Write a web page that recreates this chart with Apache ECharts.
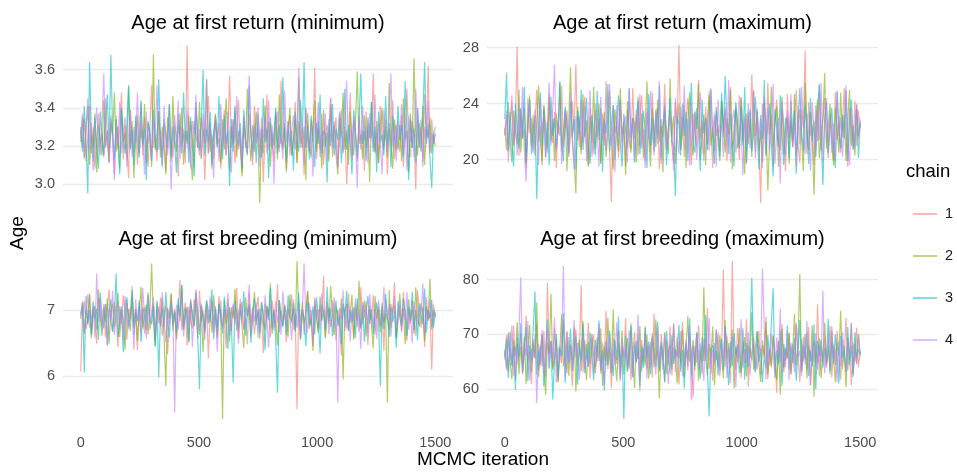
<!DOCTYPE html>
<html><head><meta charset="utf-8">
<script src="https://cdn.jsdelivr.net/npm/echarts@6/dist/echarts.min.js"></script>
<style>html,body{margin:0;padding:0;background:#fff}#c{width:957px;height:472px}</style>
</head><body><div id="c"></div>
<script>
// ---- data (hand-read traces, one value every 7.5 iterations) ----
const chains = ['1', '2', '3', '4'];
const chainColors = ['#F8766D', '#7CAE00', '#00BFC4', '#C77CFF'];
const panelTitles = ['Age at first return (minimum)', 'Age at first return (maximum)', 'Age at first breeding (minimum)', 'Age at first breeding (maximum)'];
const xTicks = [0, 500, 1000, 1500];
const iterMax = 1500;
const retMinTicks = [3.0, 3.2, 3.4, 3.6];
const retMaxTicks = [20, 24, 28];
const breedMinTicks = [6, 7];
const breedMaxTicks = [60, 70, 80];

const retMin1 = [3.28,3.19,3.34,3.12,3.25,3.41,3.16,3.30,3.08,3.22,3.37,3.20,3.27,3.14,3.45,3.23,3.11,3.32,3.26,3.05,
3.36,3.18,3.29,3.48,3.13,3.31,3.21,3.03,3.39,3.24,3.17,3.33,3.10,3.27,3.43,3.15,3.35,3.22,3.09,3.30,
3.52,3.19,3.26,3.12,3.38,3.23,3.16,3.34,3.07,3.28,3.42,3.21,3.14,3.31,3.25,3.04,3.37,3.20,3.29,3.11,
3.73,3.18,3.33,3.24,3.09,3.40,3.22,3.15,3.35,3.27,3.02,3.30,3.46,3.17,3.26,3.13,3.36,3.21,3.32,3.08,
3.24,3.39,3.15,3.28,3.57,3.19,3.34,3.11,3.25,3.44,3.20,3.06,3.31,3.23,3.16,3.37,3.27,3.10,3.41,3.22,
3.29,3.14,3.35,3.01,3.26,3.47,3.18,3.32,3.21,3.12,3.38,3.24,3.17,3.54,3.20,3.30,3.08,3.27,3.36,3.15,
3.23,3.43,3.11,3.33,3.19,3.28,3.05,3.40,3.25,3.16,3.34,3.22,3.61,3.13,3.29,3.18,3.37,3.10,3.26,3.31,
3.20,3.45,3.14,3.27,3.35,3.09,3.24,3.39,3.17,3.30,3.00,3.22,3.48,3.15,3.33,3.26,3.12,3.36,3.21,3.28,
3.07,3.38,3.19,3.32,3.24,3.58,3.16,3.27,3.11,3.41,3.23,3.18,3.34,3.05,3.29,3.20,3.44,3.13,3.31,3.25,
3.17,3.36,3.09,3.28,3.50,3.22,3.14,3.33,3.26,2.97,3.39,3.19,3.30,3.12,3.47,3.24,3.62,3.16,3.34,3.21,3.27];
const retMin2 = [3.22,3.35,3.14,3.29,3.41,3.10,3.26,3.19,3.37,3.06,3.31,3.23,3.15,3.44,3.20,3.28,3.12,3.34,3.25,3.48,
3.17,3.30,3.08,3.39,3.22,3.27,3.13,3.52,3.19,3.33,3.03,3.24,3.36,3.16,3.29,3.21,3.42,3.11,3.32,3.26,
3.09,3.68,3.18,3.25,3.38,3.14,3.30,3.20,3.05,3.35,3.27,3.12,3.46,3.23,3.17,3.31,3.24,3.40,3.10,3.28,
3.21,3.36,3.15,3.02,3.33,3.26,3.19,3.43,3.13,3.29,3.22,3.55,3.16,3.32,3.08,3.27,3.37,3.20,3.24,3.11,
3.34,3.18,3.45,3.25,3.07,3.30,3.21,3.39,3.14,3.28,3.23,3.04,3.35,3.19,3.50,3.26,3.12,3.31,3.17,3.38,
3.24,2.90,3.29,3.16,3.41,3.22,3.33,3.09,3.27,3.20,3.36,3.13,3.47,3.25,3.18,3.32,3.06,3.28,3.40,3.15,
3.23,3.34,3.11,3.56,3.26,3.19,3.30,3.02,3.37,3.21,3.14,3.29,3.44,3.17,3.33,3.24,3.08,3.39,3.20,3.27,
3.12,3.42,3.22,3.31,3.16,3.05,3.35,3.25,3.48,3.18,3.28,3.10,3.38,3.23,3.15,3.32,3.59,3.21,3.26,3.13,
3.36,3.19,3.29,3.01,3.43,3.24,3.17,3.33,3.11,3.27,3.40,3.20,3.30,3.14,3.53,3.22,3.08,3.34,3.26,3.18,
3.31,3.12,3.45,3.23,3.28,3.06,3.37,3.19,3.66,3.25,3.15,3.32,3.21,3.41,3.10,3.29,3.24,3.35,3.16,3.26,3.20];
const retMin3 = [3.30,3.17,3.41,3.22,2.95,3.64,3.26,3.12,3.35,3.20,3.08,3.38,3.24,3.15,3.32,3.47,3.19,3.68,3.27,3.13,
3.34,3.21,3.05,3.40,3.25,3.16,3.31,3.51,3.18,3.28,3.10,3.36,3.23,3.14,3.44,3.20,3.29,3.02,3.33,3.26,
3.12,3.39,3.22,3.17,3.55,3.24,3.09,3.32,3.27,3.19,3.42,3.14,3.30,3.21,3.06,3.37,3.25,3.16,3.48,3.23,
3.28,3.11,3.35,3.20,3.04,3.43,3.26,3.18,3.31,3.60,3.15,3.29,3.22,3.38,3.10,3.27,3.33,3.19,3.46,3.24,
3.13,3.36,3.21,3.28,2.99,3.34,3.17,3.41,3.25,3.20,3.32,3.08,3.39,3.23,3.15,3.52,3.26,3.18,3.30,3.11,
3.37,3.24,3.14,3.45,3.22,3.29,3.03,3.35,3.19,3.27,3.40,3.16,3.31,3.21,3.56,3.25,3.12,3.33,3.20,3.28,
3.07,3.38,3.23,3.17,3.44,3.26,3.64,3.19,3.30,3.13,3.36,3.24,3.09,3.32,3.21,3.47,3.16,3.28,3.25,3.01,
3.34,3.20,3.42,3.15,3.29,3.23,3.37,3.11,3.26,3.50,3.18,3.31,3.22,3.05,3.39,3.27,3.14,3.33,3.58,3.21,
3.28,3.12,3.35,3.24,3.43,3.17,3.30,3.06,3.38,3.22,3.26,3.15,3.46,3.20,3.32,3.09,3.36,3.25,3.18,3.41,
3.23,3.31,3.14,3.54,3.27,3.02,3.34,3.19,3.29,3.11,3.40,3.24,3.17,3.37,3.64,3.21,3.32,3.13,2.98,3.26,3.30];
const retMin4 = [3.24,3.37,3.13,3.29,3.45,3.18,3.32,3.07,3.26,3.40,3.21,3.15,3.34,3.58,3.19,3.28,3.11,3.36,3.23,3.02,
3.31,3.20,3.43,3.16,3.27,3.35,3.09,3.25,3.39,3.14,3.30,3.22,3.48,3.17,3.33,3.26,3.05,3.38,3.21,3.29,
3.12,3.34,3.24,3.52,3.18,3.28,3.10,3.41,3.23,3.15,3.32,2.97,3.27,3.36,3.20,3.44,3.13,3.30,3.25,3.17,
3.39,3.22,3.08,3.33,3.26,3.47,3.19,3.29,3.14,3.37,3.21,3.55,3.16,3.31,3.24,3.03,3.35,3.27,3.12,3.42,
3.20,3.30,3.15,3.38,3.25,3.06,3.34,3.22,3.46,3.18,3.28,3.11,3.36,3.23,3.17,3.57,3.26,3.14,3.32,3.21,
3.40,3.09,3.29,3.24,3.35,3.16,3.44,3.20,3.31,3.00,3.27,3.38,3.19,3.25,3.13,3.49,3.22,3.33,3.15,3.28,
3.36,3.18,3.26,3.61,3.21,3.32,3.10,3.39,3.23,3.17,3.30,3.04,3.35,3.25,3.43,3.14,3.28,3.20,3.37,3.12,
3.27,3.45,3.19,3.33,3.22,3.08,3.38,3.26,3.16,3.31,3.54,3.21,3.29,3.13,3.36,3.24,2.98,3.34,3.18,3.41,
3.23,3.30,3.11,3.37,3.26,3.19,3.47,3.15,3.32,3.22,3.05,3.39,3.27,3.17,3.35,3.58,3.20,3.29,3.12,3.33,
3.24,3.42,3.16,3.31,3.07,3.36,3.22,3.28,3.14,3.50,3.25,3.19,3.34,3.09,3.30,3.23,3.44,3.17,3.27,3.21,3.26];

const retMax1 = [21.8,23.2,20.6,22.5,24.1,21.0,22.9,28.1,20.3,23.6,21.5,22.2,19.7,24.4,21.9,23.0,20.8,22.6,25.0,21.3,
22.4,19.9,23.8,21.6,20.5,24.7,22.1,21.2,23.4,19.4,22.8,21.7,25.3,20.9,22.3,23.5,20.2,21.8,24.2,22.0,
26.8,21.4,23.1,20.7,22.6,24.5,21.1,19.6,23.7,22.2,20.4,24.0,21.6,22.9,19.8,23.3,21.0,25.6,22.4,20.6,
17.0,23.9,21.9,22.7,20.1,24.3,21.3,22.5,19.5,23.6,22.0,20.8,25.1,21.5,23.2,20.3,22.8,24.6,21.7,19.9,
23.4,22.1,20.5,24.8,21.2,22.9,23.7,19.3,22.4,21.6,25.4,20.7,22.2,23.5,21.0,19.8,24.1,22.6,28.2,21.4,
23.0,20.2,22.7,24.4,21.8,19.6,23.3,22.0,20.9,25.7,21.5,22.8,20.4,23.8,21.1,24.9,22.3,19.4,23.1,21.7,
22.5,20.6,24.2,21.9,23.6,19.9,22.1,25.2,20.8,21.4,23.9,22.6,20.0,24.5,21.3,22.9,19.7,23.4,21.6,26.1,
22.2,20.5,23.7,21.0,16.9,24.0,22.4,20.3,25.5,21.8,23.2,19.5,22.7,24.3,21.2,20.7,23.5,22.0,19.2,24.7,
21.5,23.0,20.9,22.8,25.0,21.1,19.8,23.6,22.3,27.8,20.4,24.1,21.7,22.5,19.6,23.9,21.3,25.3,20.6,22.9,
24.4,21.6,20.1,23.3,22.1,19.9,24.8,21.4,23.1,20.5,22.6,25.1,21.9,19.5,23.7,22.4,20.8,24.2,21.0,23.5,22.2];
const retMax2 = [22.3,20.7,24.1,21.4,19.8,23.5,22.0,21.1,25.0,20.5,22.8,23.7,19.4,22.2,24.6,21.0,23.2,20.3,22.6,25.3,
21.7,19.6,23.9,22.4,20.9,24.4,21.3,22.9,19.9,23.3,21.8,25.5,20.6,22.1,23.6,19.2,22.7,26.6,21.5,20.0,
17.6,23.8,22.2,20.4,24.7,21.6,22.8,19.5,23.1,21.2,25.2,20.8,22.5,24.0,19.7,21.9,23.4,20.2,22.0,24.9,
21.1,19.3,23.6,22.3,20.6,25.1,21.8,22.7,18.9,24.2,21.4,20.5,23.0,22.6,19.8,24.5,21.0,23.3,20.1,22.4,
25.6,21.6,19.5,23.7,22.1,20.9,24.3,21.3,22.9,19.1,23.5,22.0,20.4,25.8,21.7,23.1,19.7,22.5,24.0,20.7,
21.9,23.9,19.4,22.6,24.8,21.2,20.3,23.4,22.2,25.4,20.0,21.5,23.2,19.6,22.8,24.6,21.0,22.3,20.6,23.8,
21.4,19.9,24.2,22.7,20.5,23.0,21.8,25.0,19.3,22.4,23.6,20.8,21.6,24.4,22.0,19.0,23.3,21.1,22.9,20.2,
24.9,21.7,23.5,20.6,22.1,19.8,24.1,22.5,17.8,21.3,25.2,20.9,22.6,23.8,19.5,21.9,24.5,20.4,22.3,23.1,
19.7,22.8,21.0,24.7,20.3,22.2,23.6,21.5,19.2,25.5,22.0,20.7,23.4,21.4,17.5,22.7,24.3,20.1,21.8,23.0,
26.2,20.8,22.4,24.0,21.2,19.6,23.7,22.1,20.5,24.8,21.6,23.2,19.9,22.9,25.0,21.0,22.5,20.3,23.9,21.7,22.6];
const retMax3 = [22.9,26.2,20.6,23.4,21.2,19.5,24.0,22.1,20.8,23.7,21.5,25.2,19.8,22.6,24.3,20.4,21.9,23.1,17.2,22.4,
24.8,21.0,23.6,20.2,22.7,19.6,24.5,21.7,23.0,20.9,22.2,25.6,21.3,19.9,23.8,22.5,20.5,24.1,21.6,22.9,
19.3,23.5,21.8,25.0,20.7,22.3,24.4,21.1,19.7,23.2,22.0,20.3,24.9,21.4,23.7,19.1,22.8,21.9,25.4,20.6,
22.4,23.9,20.0,22.6,24.6,21.2,19.5,23.3,22.1,20.8,25.1,21.6,23.0,19.8,22.7,24.2,20.4,21.8,23.5,22.2,
19.4,24.7,21.0,22.9,20.6,23.6,21.5,25.3,20.1,22.3,23.8,19.6,22.0,24.4,21.3,20.9,17.4,23.1,22.5,20.3,
24.0,21.7,23.4,19.9,22.8,25.5,21.1,20.5,23.7,22.2,19.2,24.3,21.9,23.0,20.7,22.6,25.0,21.4,19.7,23.5,
22.1,20.2,24.8,21.6,26.0,22.9,20.4,23.3,21.2,19.5,24.1,22.4,20.8,23.8,21.0,25.2,19.8,22.7,23.6,20.6,
21.8,24.5,22.0,19.3,23.2,21.5,25.7,20.3,22.6,24.0,21.1,18.8,23.6,22.3,20.9,24.6,21.7,19.6,23.0,22.8,
20.1,24.2,21.4,23.5,19.0,22.5,25.1,21.9,20.6,23.9,22.1,19.7,24.4,21.3,22.8,20.2,23.4,25.4,21.6,18.2,
22.9,24.1,20.5,22.3,23.7,21.0,19.4,24.9,22.0,20.8,23.2,21.5,25.0,19.9,22.6,24.3,20.7,21.9,23.6,20.1,22.7];
const retMax4 = [21.7,23.5,19.8,22.4,24.6,21.1,22.8,20.3,23.9,21.6,25.2,20.7,18.4,22.9,24.1,21.3,20.5,23.6,22.2,19.6,
24.4,21.8,23.2,20.1,22.6,25.5,21.0,23.7,26.8,20.6,22.3,24.0,19.7,21.9,23.4,22.0,20.4,24.8,21.5,19.3,
23.1,22.5,20.9,24.3,21.2,23.8,19.9,22.7,25.0,20.2,21.6,23.5,22.1,19.5,24.5,21.4,22.9,20.6,23.3,25.4,
21.0,22.4,19.1,23.9,21.7,24.2,20.5,22.6,23.1,19.8,25.1,21.3,22.8,20.0,23.6,21.9,24.7,20.8,22.2,19.4,
23.7,21.5,24.9,22.0,20.3,23.4,21.1,25.6,19.7,22.5,24.0,20.9,21.8,23.2,22.7,19.2,24.4,21.6,20.4,23.8,
22.1,25.3,20.7,22.9,19.6,24.1,21.4,23.5,20.0,22.3,24.8,21.2,19.9,23.0,22.6,20.6,25.1,21.7,23.3,19.5,
24.3,21.9,22.5,20.2,23.8,21.0,25.7,19.8,22.8,23.6,20.5,21.5,24.6,22.0,18.9,23.1,21.3,24.0,20.8,22.4,
25.0,20.1,23.4,21.7,22.9,19.4,24.5,21.2,23.7,20.6,22.2,25.4,19.7,21.8,23.0,18.3,24.2,22.5,20.3,23.5,
21.6,24.7,20.9,22.7,19.5,23.9,21.1,25.2,22.3,20.4,23.3,21.9,19.2,24.1,22.0,20.7,23.6,21.4,25.5,19.8,
22.8,24.4,21.0,23.2,20.5,22.6,19.9,24.9,21.7,23.0,20.2,22.4,25.3,21.3,19.6,23.7,22.1,20.8,24.0,21.5,22.9];

const breedMin1 = [6.07,6.95,7.14,6.71,6.88,7.25,6.62,7.03,6.84,6.49,7.18,6.93,6.76,7.09,6.58,6.99,7.31,6.81,6.67,7.12,
6.90,6.44,7.06,6.79,7.22,6.96,6.55,7.01,6.86,7.36,6.73,6.92,6.39,7.15,6.83,7.04,6.64,6.97,7.27,6.70,
6.89,7.10,6.52,7.00,6.80,7.19,6.61,6.94,7.07,6.33,6.87,7.24,6.75,7.02,6.58,6.98,7.45,6.69,6.91,7.11,
6.46,7.05,6.85,6.72,7.16,6.93,6.57,7.29,6.82,6.99,6.65,7.08,6.27,6.95,7.13,6.78,7.03,6.60,7.21,6.88,
6.74,7.00,6.42,7.17,6.91,6.68,7.06,6.84,7.33,6.56,6.97,7.12,6.71,6.89,6.48,7.26,6.80,7.04,6.63,6.96,
7.20,6.77,6.93,6.35,7.09,6.86,7.02,6.59,7.14,6.90,6.73,7.39,6.66,6.98,6.83,7.07,6.51,7.01,6.88,7.23,
6.70,6.95,5.50,7.11,6.81,7.04,6.62,6.92,7.28,6.76,6.99,6.45,7.15,6.87,6.69,7.06,6.83,7.52,6.60,6.94,
7.03,6.74,6.89,7.19,6.54,7.00,6.85,6.31,7.10,6.93,6.72,7.25,6.80,6.97,6.58,7.08,6.88,6.67,7.34,6.78,
6.96,7.13,6.47,7.01,6.84,7.22,6.63,6.91,7.05,6.75,6.99,6.38,7.17,6.86,6.70,7.09,6.94,7.42,6.57,6.82,
7.06,6.68,7.27,6.90,6.53,7.02,6.79,7.14,6.87,6.61,7.30,6.95,6.73,7.04,6.44,7.19,6.83,6.98,6.10,7.08,6.92];
const breedMin2 = [6.86,7.12,6.64,6.99,6.78,7.23,6.57,6.95,7.06,6.70,7.31,6.88,6.61,7.04,6.82,7.17,6.49,6.97,7.09,6.74,
6.93,7.26,6.59,7.01,6.85,6.40,7.14,6.90,6.68,7.20,6.81,7.02,6.53,6.96,7.35,6.72,6.89,7.08,6.63,7.00,
7.70,6.84,6.46,7.11,6.94,6.77,7.18,6.60,5.85,7.03,6.87,7.25,6.69,6.98,6.55,7.10,6.83,7.38,6.71,6.92,
7.05,6.50,7.16,6.88,6.75,7.28,6.97,6.62,7.07,6.36,6.91,7.13,6.80,7.00,6.66,7.22,6.85,6.58,7.09,6.94,
5.35,7.15,6.79,6.99,6.52,7.04,6.87,7.32,6.68,6.93,7.10,6.73,6.43,7.19,6.90,7.02,6.61,6.96,7.27,6.82,
6.98,6.56,7.12,6.86,6.70,7.06,6.92,7.40,6.64,7.01,6.81,6.47,7.15,6.89,6.76,7.08,6.95,6.59,7.24,6.84,
7.03,6.67,7.74,6.91,6.54,7.11,6.80,6.97,7.29,6.72,6.88,6.38,7.07,6.94,6.65,7.20,6.85,7.00,6.57,7.13,
6.78,7.36,6.96,6.62,7.05,6.89,6.74,7.17,5.95,6.99,7.09,6.69,6.93,7.23,6.55,7.02,6.84,7.44,6.71,6.97,
7.14,6.60,6.90,7.06,6.77,6.42,7.21,6.87,7.00,6.66,7.11,6.81,6.95,5.60,7.30,6.73,6.98,7.08,6.58,6.92,
7.25,6.79,7.03,6.48,6.94,7.16,6.83,7.01,6.64,7.34,6.89,6.75,7.10,6.97,6.53,7.05,6.86,7.47,6.70,6.99,6.88];
const breedMin3 = [6.94,7.08,6.05,7.21,6.80,6.99,6.63,7.13,6.86,7.02,6.55,7.26,6.89,6.72,7.09,6.47,6.98,7.16,6.67,6.93,
7.55,6.59,6.84,7.05,6.36,6.96,7.19,6.75,6.90,7.30,6.62,7.00,6.83,7.11,6.51,6.95,7.04,6.69,7.23,6.87,
6.78,7.06,6.44,7.14,5.98,6.92,7.01,6.74,7.27,6.88,6.58,7.10,6.81,6.97,6.65,7.18,6.91,7.37,6.70,7.03,
6.85,6.53,7.12,6.95,6.76,7.24,6.60,5.80,7.07,6.89,6.68,7.15,6.99,6.82,7.31,6.56,7.00,6.73,7.09,6.93,
6.64,7.20,6.87,6.41,7.04,6.79,5.90,7.13,6.94,6.71,7.02,6.85,7.28,6.61,6.97,7.08,6.50,6.90,7.17,6.77,
7.01,6.66,7.11,6.92,6.39,7.06,6.84,7.33,6.72,6.98,6.55,5.75,7.15,6.88,6.74,7.03,6.62,7.22,6.91,6.80,
7.10,6.69,6.96,7.26,6.57,7.00,6.86,6.45,7.12,6.93,6.77,7.05,6.63,7.19,6.89,6.34,7.08,6.97,6.70,7.35,
6.83,7.02,6.60,6.95,7.14,6.76,6.92,6.48,7.09,6.87,7.29,6.68,6.99,6.81,7.04,6.58,7.17,6.90,6.73,7.07,
6.52,6.97,7.21,6.79,7.01,6.64,6.94,7.11,6.85,5.85,7.06,6.71,7.24,6.91,6.59,7.03,6.82,6.98,6.43,7.13,
6.88,6.75,7.18,6.95,6.61,7.05,6.84,7.27,6.70,6.99,6.54,7.10,6.92,6.78,7.32,6.66,7.00,6.87,7.15,6.73,6.96];
const breedMin4 = [6.90,7.11,6.66,6.98,7.24,6.73,6.87,7.06,6.58,7.55,6.82,7.17,6.69,6.96,7.09,6.46,7.01,6.85,7.29,6.62,
6.93,7.13,6.77,6.99,6.53,7.21,6.88,6.71,7.04,6.95,6.40,7.16,6.83,7.02,6.65,7.33,6.90,6.57,7.07,6.81,
6.97,7.19,6.63,6.92,7.05,6.74,7.27,6.86,6.51,7.00,6.79,7.12,6.94,5.45,7.08,6.70,6.98,7.23,6.60,6.89,
7.03,6.76,7.15,6.44,6.96,7.31,6.84,6.68,7.10,6.91,6.55,7.01,6.80,7.20,6.97,6.64,7.06,6.37,6.93,7.14,
6.72,7.00,6.87,7.26,6.61,6.95,7.09,6.78,6.99,6.49,7.17,6.85,6.70,7.04,6.92,7.38,6.67,6.98,6.83,7.11,
6.58,7.02,6.90,6.75,7.22,6.86,6.43,7.08,6.96,6.69,7.13,6.81,7.00,6.62,7.28,6.94,6.77,7.05,6.88,6.54,
7.16,6.91,6.73,7.04,6.59,6.97,7.70,6.84,6.66,7.10,6.93,6.48,7.19,6.87,7.01,6.71,7.25,6.95,6.80,7.07,
6.63,6.99,7.14,6.76,6.90,5.60,7.03,6.86,7.30,6.68,6.94,7.09,6.52,7.00,6.83,7.18,6.74,6.97,6.41,7.12,
6.89,7.05,6.65,7.24,6.92,6.79,7.01,6.56,7.15,6.88,6.72,7.35,6.96,6.84,7.08,6.60,6.99,7.21,6.76,6.93,
7.11,6.67,7.02,6.85,7.27,6.70,6.97,6.50,7.13,6.90,6.78,7.06,6.95,7.40,6.62,7.00,6.87,7.17,6.74,6.98,6.91];

const breedMax1 = [66.0,69.8,63.2,67.5,64.4,71.6,61.7,68.3,65.1,70.2,62.6,67.0,73.4,64.8,66.9,60.9,69.1,65.6,71.9,63.5,
67.8,64.1,70.6,62.2,79.4,66.4,68.7,63.9,71.2,65.3,61.4,68.0,64.7,72.5,66.2,62.9,69.5,65.8,60.5,67.3,
70.9,64.3,66.8,78.9,63.0,68.9,65.5,72.1,61.9,67.2,69.9,64.0,66.6,71.0,62.8,68.5,65.2,74.3,63.6,67.7,
60.2,69.3,66.1,64.6,70.8,62.4,67.9,65.9,72.9,63.3,68.2,61.6,66.7,70.4,64.9,67.4,59.6,69.0,65.0,71.5,
63.8,66.3,68.6,62.1,73.8,65.4,67.1,63.1,70.0,66.5,61.2,68.8,64.5,71.4,62.5,67.6,65.7,69.6,60.8,66.9,
72.3,64.2,68.1,63.4,70.5,65.9,58.4,67.8,64.8,71.7,66.2,62.7,69.2,65.1,74.8,63.7,67.4,61.5,68.4,65.3,
70.3,62.3,66.8,81.8,64.0,69.7,65.6,61.1,83.4,67.0,63.5,71.1,66.4,62.0,68.6,64.7,72.8,60.4,67.5,65.2,
69.4,63.2,66.0,70.7,62.6,68.0,65.8,73.2,61.8,67.3,64.3,69.8,66.6,59.3,68.9,64.9,71.8,63.0,67.1,65.5,
70.1,62.9,68.3,64.6,72.0,66.3,61.3,69.1,65.0,67.9,63.6,71.3,60.6,66.7,68.8,64.1,75.5,62.4,67.6,65.4,
69.5,63.9,66.5,71.6,62.1,68.1,64.4,70.6,66.1,61.7,69.0,65.7,73.0,63.4,67.2,60.7,68.5,65.1,71.2,64.0,66.8];
const breedMax2 = [67.2,63.8,70.3,65.0,61.8,68.9,66.1,72.2,62.7,67.7,64.4,69.6,60.9,66.4,71.7,63.1,68.4,65.6,75.8,62.2,
67.0,70.0,64.6,58.9,68.5,66.3,77.4,63.5,65.9,69.2,61.2,67.5,73.6,64.1,66.7,70.5,62.4,68.1,65.2,71.3,
59.5,67.3,69.1,63.3,72.4,65.8,61.6,68.6,64.5,70.1,66.2,62.9,69.4,65.1,71.1,60.6,67.9,64.2,73.0,66.0,
63.0,74.5,65.4,61.4,68.3,64.8,70.7,62.6,67.1,69.3,63.7,72.0,66.5,60.2,68.8,65.5,71.5,63.2,67.4,64.3,
69.9,61.9,66.8,69.6,64.0,72.7,66.6,58.3,67.8,65.3,70.4,62.8,66.9,68.0,63.6,71.8,65.7,61.0,68.7,64.7,
70.8,62.1,67.6,73.3,65.0,66.1,69.0,63.4,70.2,61.5,67.2,64.6,78.6,66.4,62.5,68.2,65.9,71.4,60.7,67.0,
64.1,69.8,66.2,62.0,72.6,65.4,68.4,63.9,70.9,60.1,67.7,64.9,71.2,63.0,66.6,69.5,62.3,68.0,65.6,74.0,
63.5,67.4,70.6,64.4,61.3,68.9,66.0,72.3,62.7,67.1,64.0,69.7,65.2,61.7,68.6,59.0,71.0,63.8,67.5,65.8,
70.3,62.6,66.8,73.7,64.3,68.1,81.0,63.1,66.9,70.0,61.9,67.9,65.1,71.6,58.6,68.3,64.7,69.3,62.0,66.4,
72.1,64.5,67.8,63.3,70.7,65.7,61.2,68.5,66.2,74.3,63.6,67.0,60.3,69.4,65.3,71.9,62.8,68.2,64.6,70.1,66.0];
const breedMax3 = [65.4,69.1,62.0,70.5,64.2,67.6,59.8,69.4,65.9,72.0,63.0,66.8,71.3,61.4,68.0,65.1,70.9,77.8,62.6,67.2,
64.5,69.9,60.4,66.2,72.7,63.7,68.8,58.1,65.5,70.1,62.2,67.4,66.0,73.9,61.1,68.4,64.8,71.0,63.3,66.7,
69.6,60.8,67.9,65.2,71.9,62.9,68.2,64.0,70.3,66.5,61.6,69.0,65.8,72.5,63.5,67.0,59.7,68.6,64.4,70.7,
66.1,62.4,68.9,65.3,73.2,61.8,67.5,54.5,69.7,63.1,66.4,71.5,62.1,68.1,65.0,70.0,60.5,67.8,63.9,71.2,
65.6,68.7,62.7,69.3,66.9,64.1,72.3,63.6,68.5,65.7,61.3,70.6,66.3,62.8,69.8,64.6,67.3,65.9,71.7,63.2,
67.1,60.1,68.3,65.4,72.9,62.3,67.7,64.3,70.4,66.6,61.9,69.5,65.1,73.5,63.8,55.0,67.2,68.0,64.9,70.8,
62.5,66.8,69.2,63.4,71.4,65.6,60.7,68.7,64.2,70.2,66.2,67.9,62.9,65.3,71.1,61.7,68.4,64.0,69.6,80.3,
66.5,63.0,70.5,65.0,67.4,61.2,66.0,63.7,69.8,65.8,72.1,78.4,62.0,67.1,64.5,70.7,60.6,68.2,65.2,71.6,
63.6,67.7,64.8,69.4,61.5,66.9,72.6,63.3,68.1,65.5,70.3,62.4,67.0,64.1,71.8,60.0,68.8,66.1,69.1,63.9,
67.5,65.0,72.8,62.7,68.6,64.6,70.0,66.3,61.0,69.7,65.7,67.8,63.1,71.3,64.3,68.0,62.2,70.4,65.9,67.3,66.4];
const breedMax4 = [66.7,63.4,69.7,65.2,71.6,62.4,67.8,64.5,70.4,80.4,63.0,68.5,66.0,72.4,61.6,67.3,65.7,69.9,57.4,68.2,
64.3,70.8,62.8,66.5,71.0,63.9,68.7,65.4,73.1,61.2,67.6,64.9,69.3,82.5,62.1,70.5,64.7,67.9,63.2,72.6,
65.8,68.4,61.7,66.9,70.2,63.6,66.2,64.2,67.1,69.6,62.7,68.0,65.0,71.9,63.3,66.4,60.6,68.9,65.5,70.0,
62.9,67.4,64.4,72.2,66.1,61.4,69.2,65.1,67.7,63.8,70.7,66.6,62.2,68.6,64.8,73.6,63.0,67.0,65.9,69.4,
61.9,68.1,64.0,70.3,66.3,62.6,71.4,65.3,67.5,63.5,69.8,66.8,60.9,68.8,64.6,72.0,63.1,67.2,65.6,70.6,
62.3,66.0,69.0,64.1,71.7,57.9,67.9,65.0,70.1,63.7,68.3,66.4,61.5,69.5,65.8,73.0,62.8,67.1,64.3,70.9,
66.7,63.4,68.6,65.2,71.2,62.0,67.6,64.7,69.7,66.2,60.3,68.2,65.5,72.8,63.9,67.3,64.9,70.4,62.5,66.9,
69.1,65.1,63.6,68.0,66.5,82.0,71.3,61.8,67.7,64.4,70.0,66.1,62.7,69.4,65.3,74.6,63.2,67.5,64.0,70.7,
61.6,68.5,66.3,63.0,71.8,65.7,67.0,62.4,69.6,64.5,72.4,66.8,60.8,68.1,65.0,70.2,63.5,67.8,64.8,78.0,
62.9,66.6,69.3,64.2,71.5,65.4,67.4,61.3,68.7,64.1,70.5,66.0,63.3,69.0,65.9,72.1,62.6,67.2,64.6,69.8,66.2];

// ---- chart ----
const panels = [
  { title: panelTitles[0], ticks: retMinTicks, dec: 1, chains: [retMin1, retMin2, retMin3, retMin4], grid: { left: 63, top: 37, width: 390, height: 174 }, xLabels: false },
  { title: panelTitles[1], ticks: retMaxTicks, dec: 0, chains: [retMax1, retMax2, retMax3, retMax4], grid: { left: 487, top: 37, width: 391, height: 174 }, xLabels: false },
  { title: panelTitles[2], ticks: breedMinTicks, dec: 0, chains: [breedMin1, breedMin2, breedMin3, breedMin4], grid: { left: 63, top: 253, width: 390, height: 174 }, xLabels: true },
  { title: panelTitles[3], ticks: breedMaxTicks, dec: 0, chains: [breedMax1, breedMax2, breedMax3, breedMax4], grid: { left: 487, top: 253, width: 391, height: 174 }, xLabels: true }
];
const FONT = '"Liberation Sans", Arial, Helvetica, sans-serif';
const grids = [], xAxes = [], yAxes = [], series = [], graphics = [];
panels.forEach((p, k) => {
  grids.push(Object.assign({ containLabel: false }, p.grid));
  const xPad = iterMax * 0.05;
  xAxes.push({
    type: 'value', gridIndex: k, min: -xPad, max: iterMax + xPad,
    axisLine: { show: false }, splitLine: { show: false },
    axisTick: { show: false, customValues: xTicks },
    axisLabel: { show: p.xLabels, customValues: xTicks, margin: 8, color: '#4D4D4D', fontSize: 14.5, fontFamily: FONT,
      formatter: v => String(Math.round(v)) }
  });
  let lo = Infinity, hi = -Infinity;
  p.chains.forEach(a => a.forEach(v => { if (v < lo) lo = v; if (v > hi) hi = v; }));
  const pad = (hi - lo) * 0.05;
  yAxes.push({
    type: 'value', gridIndex: k, min: lo - pad, max: hi + pad, scale: true,
    axisLine: { show: false },
    axisTick: { show: false, customValues: p.ticks },
    axisLabel: { customValues: p.ticks, margin: 8, color: '#4D4D4D', fontSize: 14.5, fontFamily: FONT,
      formatter: v => Number(v).toFixed(p.dec) },
    splitLine: { show: true, lineStyle: { color: '#EBEBEB', width: 1.3 } }
  });
  p.chains.forEach((arr, c) => {
    const n = arr.length;
    series.push({
      type: 'line', name: chains[c], xAxisIndex: k, yAxisIndex: k,
      data: arr.map((v, i) => [i * iterMax / (n - 1), v]),
      showSymbol: false, symbol: 'none', sampling: null, silent: true,
      lineStyle: { color: chainColors[c], width: 1.2, opacity: 0.6 },
      itemStyle: { color: chainColors[c] },
      z: 2 + c
    });
  });
  graphics.push({
    type: 'text', x: p.grid.left + p.grid.width / 2, y: k < 2 ? 23 : 239,
    style: { text: p.title, font: '20px ' + FONT, fill: '#000', align: 'center', verticalAlign: 'middle', textAlign: 'center', textVerticalAlign: 'middle' }
  });
});
graphics.push({
  type: 'text', x: 483, y: 460,
  style: { text: 'MCMC iteration', font: '19px ' + FONT, fill: '#000', align: 'center', verticalAlign: 'middle', textAlign: 'center', textVerticalAlign: 'middle' }
});
graphics.push({
  type: 'text', x: 18, y: 233, rotation: Math.PI / 2,
  style: { text: 'Age', font: '19px ' + FONT, fill: '#000', align: 'center', verticalAlign: 'middle', textAlign: 'center', textVerticalAlign: 'middle' }
});
graphics.push({
  type: 'text', x: 906, y: 172,
  style: { text: 'chain', font: '18.5px ' + FONT, fill: '#000', align: 'left', verticalAlign: 'middle', textAlign: 'left', textVerticalAlign: 'middle' }
});

const chart = echarts.init(document.getElementById('c'), null, { renderer: 'canvas' });
chart.setOption({
  animation: false,
  backgroundColor: '#fff',
  grid: grids, xAxis: xAxes, yAxis: yAxes, series: series,
  legend: {
    data: chains.map(c => ({ name: c, icon: 'rect' })), orient: 'vertical', left: 908, top: 201.5,
    itemWidth: 24, itemHeight: 2, itemGap: 27, selectedMode: false,
    itemStyle: { opacity: 0.5 },
    textStyle: { color: '#1A1A1A', fontSize: 14.5, fontFamily: FONT, padding: [0, 0, 0, 3] }
  },
  graphic: graphics
});
</script>
</body></html>
